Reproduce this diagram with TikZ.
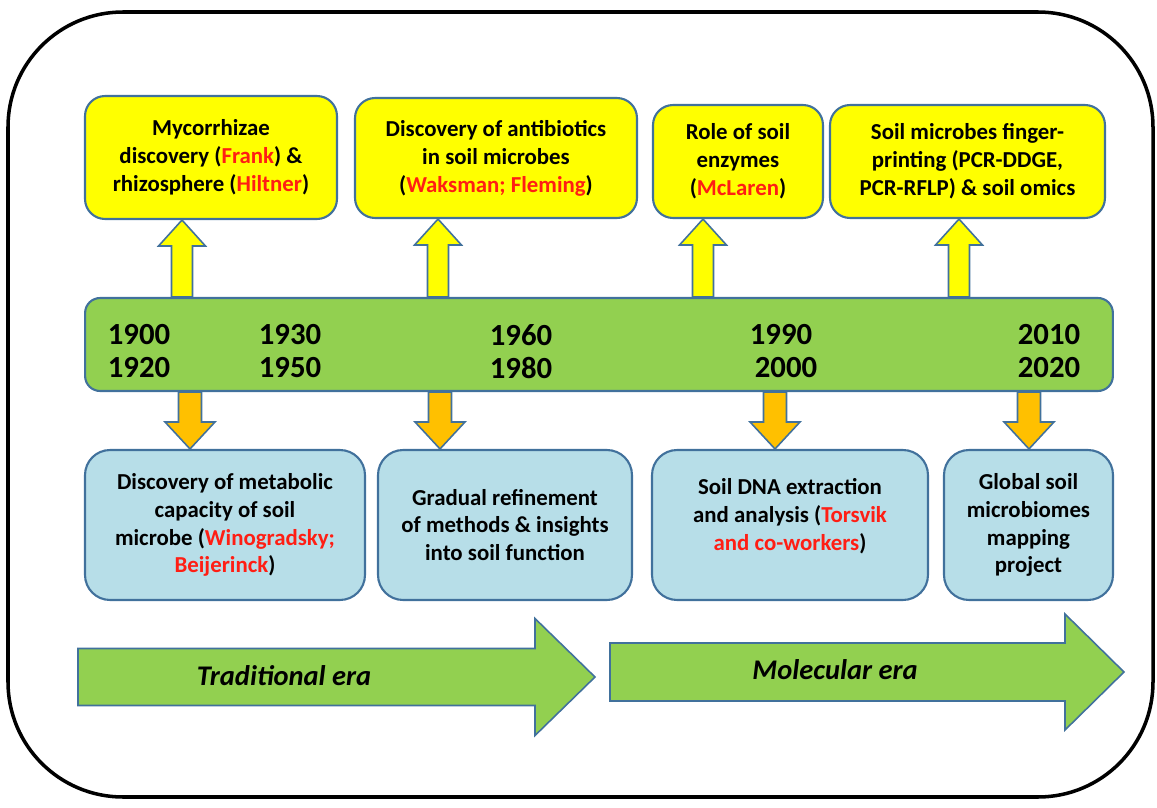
\documentclass[tikz,border=0pt]{standalone}
\usepackage{fontspec}
\setmainfont{Carlito}
\usepackage{tikz}
\usetikzlibrary{calc}
\usepackage{xcolor}

\definecolor{boxline}{RGB}{65,113,156}
\definecolor{topyellow}{RGB}{255,255,0}
\definecolor{bargreen}{RGB}{146,208,80}
\definecolor{lowblue}{RGB}{183,222,232}
\definecolor{arrorange}{RGB}{255,192,0}
\definecolor{namered}{RGB}{255,30,20}

% block arrow: style, start, tip, half shaft, half head, head length
\newcommand{\blockarr}[6]{%
  \coordinate (hb) at ($(#3)!#6!(#2)$);
  \draw[#1] ($(#2)!#4!90:(#3)$) -- ($(hb)!#4!90:(#3)$) -- ($(hb)!#5!90:(#3)$) -- (#3)
    -- ($(hb)!#5!-90:(#3)$) -- ($(hb)!#4!-90:(#3)$) -- ($(#2)!#4!-90:(#3)$) -- cycle;}

\tikzset{
  boxtext/.style={font=\fontsize{13}{15.9}\selectfont\bfseries, align=center},
  topbox/.style={boxtext, draw=boxline, fill=topyellow, line width=1.2pt, rounded corners=0.4cm},
  lowbox/.style={boxtext, draw=boxline, fill=lowblue, line width=1.2pt, rounded corners=0.5cm},
  yeartext/.style={font=\fontsize{17.5}{20}\selectfont\bfseries},
  upblock/.style={draw=boxline, fill=topyellow, line width=0.9pt},
  downblock/.style={draw=boxline, fill=arrorange, line width=0.9pt},
  erablock/.style={draw=boxline, fill=bargreen, line width=0.9pt},
  eratext/.style={font=\fontsize{16.2}{18}\selectfont\bfseries\itshape}
}

\begin{document}
\begin{tikzpicture}[x=0.02cm,y=-0.02cm]
    \useasboundingbox (0,0) rectangle (1157,808);
    \draw[line width=2pt, rounded corners=2.3cm] (8,12) rectangle (1153,797);

    % top boxes
    \node[topbox, minimum width=5.04cm, minimum height=2.46cm] (myco) at (211,157.5)
        {Mycorrhizae\\discovery (\textcolor{namered}{Frank}) \&\\rhizosphere (\textcolor{namered}{Hiltner})};
    \node[topbox, minimum width=5.64cm, minimum height=2.4cm] (antib) at (496,158)
        {Discovery of antibiotics\\in soil microbes\\(\textcolor{namered}{Waksman; Fleming})};
    \node[topbox, minimum width=3.4cm, minimum height=2.26cm] (enzym) at (738,161.5)
        {Role of soil\\enzymes\\(\textcolor{namered}{McLaren})};
    \node[topbox, minimum width=5.5cm, minimum height=2.26cm] (finger) at (967.5,161.5)
        {Soil microbes finger-\\printing (PCR-DDGE,\\PCR-RFLP) \& soil omics};

    % timeline
    \node[draw=boxline, fill=bargreen, line width=1.2pt, rounded corners=0.3cm,
          minimum width=20.56cm, minimum height=1.86cm] (bar) at (599,344.5) {};
    \node[yeartext] (y1900) at (139,335) {1900};
    \node[yeartext] (y1920) at (139,368) {1920};
    \node[yeartext] (y1930) at (290,335) {1930};
    \node[yeartext] (y1950) at (290,368) {1950};
    \node[yeartext] (y1960) at (521,335) {1960};
    \node[yeartext] (y1980) at (521,368) {1980};
    \node[yeartext] (y1990) at (781,335) {1990};
    \node[yeartext] (y2000) at (786,368) {2000};
    \node[yeartext] (y2010) at (1049,335) {2010};
    \node[yeartext] (y2020) at (1049,368) {2020};

    % bottom boxes
    \node[lowbox, minimum width=5.6cm, minimum height=3cm] (metab) at (225,525)
        {Discovery of metabolic\\capacity of soil\\microbe (\textcolor{namered}{Winogradsky;}\\\textcolor{namered}{Beijerinck})};
    \node[lowbox, minimum width=5.08cm, minimum height=3cm] (refine) at (505,525)
        {Gradual refinement\\of methods \& insights\\into soil function};
    \node[lowbox, minimum width=5.52cm, minimum height=3cm] (dnaext) at (790,525)
        {Soil DNA extraction\\and analysis (\textcolor{namered}{Torsvik}\\\textcolor{namered}{and co-workers})\\[-4pt]\mbox{}};
    \node[lowbox, minimum width=3.38cm, minimum height=3cm] (globmap) at (1028.5,525)
        {Global soil\\microbiomes\\mapping\\project};

    % arrows up
    \coordinate (up1s) at (182,0 |- bar.north);
    \coordinate (up1t) at (182,0 |- myco.south);
    \coordinate (up2s) at (438,0 |- bar.north);
    \coordinate (up2t) at (438,0 |- antib.south);
    \coordinate (up3s) at (703,0 |- bar.north);
    \coordinate (up3t) at (703,0 |- enzym.south);
    \coordinate (up4s) at (959,0 |- bar.north);
    \coordinate (up4t) at (959,0 |- finger.south);
    \blockarr{upblock}{up1s}{up1t}{0.21cm}{0.47cm}{0.52cm}
    \blockarr{upblock}{up2s}{up2t}{0.21cm}{0.47cm}{0.52cm}
    \blockarr{upblock}{up3s}{up3t}{0.21cm}{0.47cm}{0.52cm}
    \blockarr{upblock}{up4s}{up4t}{0.21cm}{0.47cm}{0.52cm}

    % arrows down
    \coordinate (dn1s) at (190,0 |- bar.south);
    \coordinate (dn1t) at (190,0 |- metab.north);
    \coordinate (dn2s) at (440,0 |- bar.south);
    \coordinate (dn2t) at (440,0 |- refine.north);
    \coordinate (dn3s) at (775,0 |- bar.south);
    \coordinate (dn3t) at (775,0 |- dnaext.north);
    \coordinate (dn4s) at (1029,0 |- bar.south);
    \coordinate (dn4t) at (1029,0 |- globmap.north);
    \blockarr{downblock}{dn1s}{dn1t}{0.23cm}{0.5cm}{0.54cm}
    \blockarr{downblock}{dn2s}{dn2t}{0.23cm}{0.5cm}{0.54cm}
    \blockarr{downblock}{dn3s}{dn3t}{0.23cm}{0.5cm}{0.54cm}
    \blockarr{downblock}{dn4s}{dn4t}{0.23cm}{0.5cm}{0.54cm}

    % eras
    \coordinate (trad0) at (78,677);
    \coordinate (trad1) at (595,677);
    \coordinate (mol0) at (610,672);
    \coordinate (mol1) at (1124,672);
    \blockarr{erablock}{trad0}{trad1}{0.57cm}{1.17cm}{1.2cm}
    \blockarr{erablock}{mol0}{mol1}{0.58cm}{1.16cm}{1.18cm}
    \node[eratext] (tradtext) at (284,676) {Traditional era};
    \node[eratext] (moltext) at (835,670) {Molecular era};
\end{tikzpicture}
\end{document}
